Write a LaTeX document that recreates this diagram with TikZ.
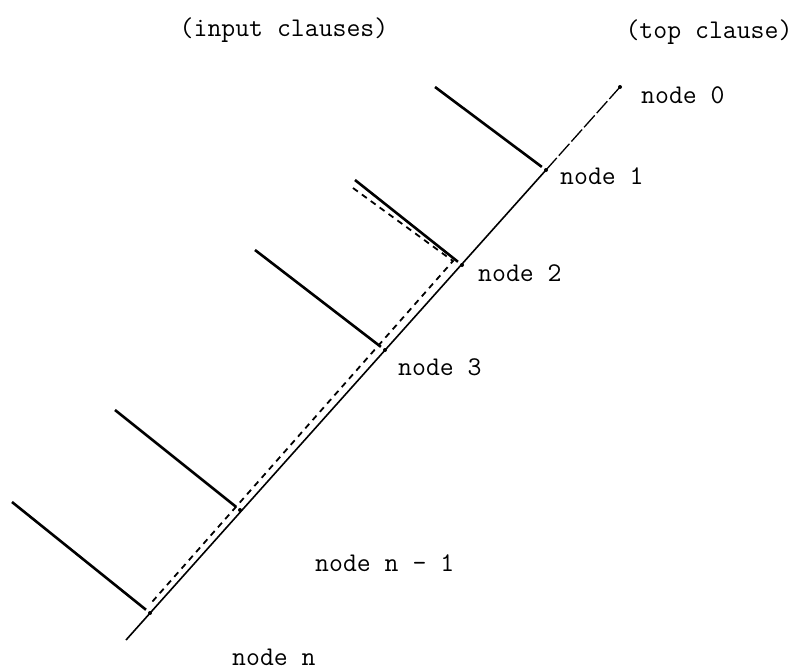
\documentclass[tikz,border=0pt]{standalone}
\usepackage{fontspec}
\begin{document}
\begin{tikzpicture}[x=1pt,y=-1pt,
  dot/.style={circle,fill=black,inner sep=0pt,minimum size=4pt},
  twfont/.style={font=\fontsize{27}{30}\selectfont\ttfamily\addfontfeatures{FakeBold=1.3}},
  lbl/.style={twfont,anchor=west,inner sep=0pt},
  heading/.style={twfont,inner sep=0pt},
  mainline/.style={line width=1.6pt},
  topline/.style={line width=1.3pt,dash pattern=on 16pt off 3pt},
  inputline/.style={line width=2.6pt,shorten >=3pt},
  trail/.style={line width=1.8pt,dash pattern=on 6pt off 5pt}]
\useasboundingbox (0,0) rectangle (800,670);
% nodes on the main branch
\node[dot] (n0) at (620,87) {};
\node[dot] (n1) at (546,170) {};
\node[dot] (n2) at (462,265) {};
\node[dot] (n3) at (385,350) {};
\node[dot] (nn1) at (240,510) {};
\node[dot] (nn) at (150,613) {};
\coordinate (bot) at (126,640);
\draw[topline] (n0.center) -- (n1.center);
\draw[mainline] (n1.center) -- (bot);
% input clauses
\coordinate (i1) at (435,87);
\coordinate (i2) at (355,180);
\coordinate (i3) at (255,250);
\coordinate (i4) at (115,410);
\coordinate (i5) at (12,502);
\draw[inputline] (i1) -- (n1);
\draw[inputline] (i2) -- (n2);
\draw[inputline] (i3) -- (n3);
\draw[inputline] (i4) -- (nn1);
\draw[inputline] (i5) -- (nn);
% dashed trail
\coordinate (t0) at (353,188);
\coordinate (tc) at (453,261);
\coordinate (t1) at (152,602);
\draw[trail] (t0) -- (tc) -- (t1);
% labels
\node[heading] (hin) at (284,30) {(input clauses)};
\node[heading] (htop) at (709,32) {(top clause)};
\node[lbl] (l0) at (641,95) {node 0};
\node[lbl] (l1) at (560,176) {node 1};
\node[lbl] (l2) at (478,273) {node 2};
\node[lbl] (l3) at (398,367) {node 3};
\node[lbl] (ln1) at (315,563) {node n - 1};
\node[lbl] (ln) at (232,657) {node n};
\end{tikzpicture}
\end{document}
